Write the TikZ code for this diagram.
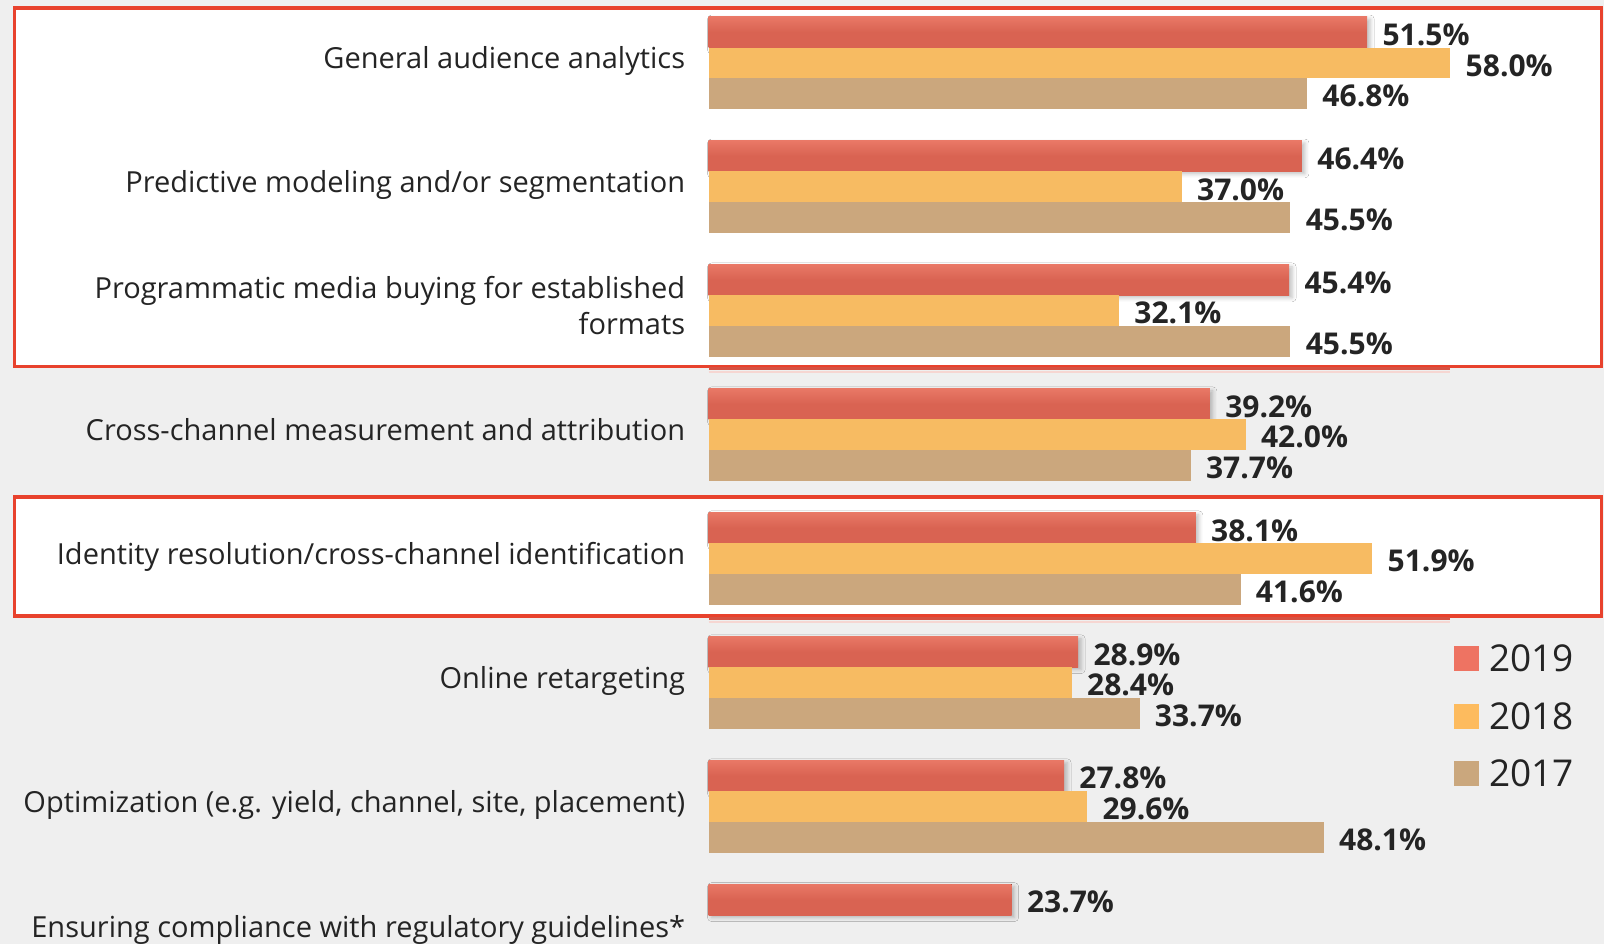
\documentclass[tikz,border=0pt]{standalone}
\usepackage{fontspec}
\setmainfont{Open Sans}
\usetikzlibrary{shadows.blur}
\definecolor{bg}{RGB}{239,239,239}
\definecolor{frame}{RGB}{232,66,45}
\definecolor{frameD}{RGB}{214,82,66}
\definecolor{framePink}{RGB}{246,214,210}
\definecolor{cR}{RGB}{217,99,82}
\definecolor{cRtop}{RGB}{233,120,102}
\definecolor{cY}{RGB}{247,187,98}
\definecolor{cT}{RGB}{203,167,125}
\definecolor{lR}{RGB}{238,115,98}
\definecolor{lY}{RGB}{253,187,94}
\definecolor{lT}{RGB}{202,167,125}
\definecolor{ink}{RGB}{36,36,36}
\begin{document}
\begin{tikzpicture}[x=0.5pt,y=-0.5pt,
  cat/.style={anchor=base east, font=\fontsize{14.5}{18}\selectfont, text=ink, inner sep=0pt},
  val/.style={anchor=west, font=\fontsize{15}{18}\selectfont\bfseries, text=ink, inner sep=0pt, text height=10.7pt, text depth=0pt},
  leg/.style={anchor=base west, font=\fontsize{18.5}{22}\selectfont, text=ink, inner sep=0pt},
  legsq/.style={draw=none, inner sep=0pt, minimum size=12.5pt},
  hibox/.style={draw=frame, line width=1.75pt, fill=white},
  barR/.style={top color=cRtop, bottom color=cR, middle color=cR,
    blur shadow={shadow xshift=1.5pt, shadow yshift=-1.2pt, shadow blur radius=2pt, shadow opacity=25}},
  barY/.style={fill=cY},
  barT/.style={fill=cT}
]
\fill[bg] (0,0) rectangle (1604,944);
\useasboundingbox (0,0) rectangle (1604,944);
% highlight boxes
\draw[hibox] (14.5,8) rectangle (1601.5,366.5);
\draw[hibox] (14.5,497) rectangle (1601.5,616);
\draw[frameD, line width=1.5pt] (708.5,368.5) -- (1450,368.5);
\draw[framePink, line width=1pt] (708.5,372) -- (1450,372);
\draw[frameD, line width=1.5pt] (708.5,618) -- (1450,618);
\draw[framePink, line width=1pt] (708.5,621.5) -- (1450,621.5);
% bars
\def\xo{708.5}
\def\sc{12.79}
\def\bh{30.8}
\def\gap{15}
\def\dy{2.5}
\foreach \i/\a/\b/\c in {0/51.5/58.0/46.8, 1/46.4/37.0/45.5, 2/45.4/32.1/45.5, 3/39.2/42.0/37.7, 4/38.1/51.9/41.6, 5/28.9/28.4/33.7, 6/27.8/29.6/48.1} {
  \pgfmathsetmacro\tp{16.7+123.94*\i}
  \fill[barR] (\xo,\tp) rectangle ({\xo+\sc*\a},{\tp+\bh});
  \fill[barY] (\xo,{\tp+\bh}) rectangle ({\xo+\sc*\b},{\tp+2*\bh});
  \fill[barT] (\xo,{\tp+2*\bh}) rectangle ({\xo+\sc*\c},{\tp+3*\bh});
  \node[val] (va\i) at ({\xo+\sc*\a+\gap},{\tp+0.5*\bh+\dy}) {\a\%};
  \node[val] (vb\i) at ({\xo+\sc*\b+\gap},{\tp+1.5*\bh+\dy}) {\b\%};
  \node[val] (vc\i) at ({\xo+\sc*\c+\gap},{\tp+2.5*\bh+\dy}) {\c\%};
}
\pgfmathsetmacro\tp{16.7+123.94*7}
\fill[barR] (\xo,\tp) rectangle ({\xo+\sc*23.7},{\tp+\bh});
\node[val] (va7) at ({\xo+\sc*23.7+\gap},{\tp+0.5*\bh+\dy}) {23.7\%};
% category labels
\node[cat] (c0) at (685.5,68.7) {General audience analytics};
\node[cat] (c1) at (685.5,192.6) {Predictive modeling and/or segmentation};
\node[cat, anchor=east, align=right] (c2) at (685.5,305.5) {Programmatic media buying for established\\formats};
\node[cat] (c3) at (685.5,440.5) {Cross-channel measurement and attribution};
\node[cat] (c4) at (685.5,564.5) {Identity resolution/cross-channel identification};
\node[cat] (c5) at (685.5,688.4) {Online retargeting};
\node[cat] (c6) at (685.5,812.3) {Optimization (e.g. yield, channel, site, placement)};
\node[cat] (c7) at (685.5,937) {Ensuring compliance with regulatory guidelines*};
% legend
\node[legsq, fill=lR] (s19) at (1466.5,658.5) {};
\node[legsq, fill=lY] (s18) at (1466.5,716) {};
\node[legsq, fill=lT] (s17) at (1466.5,773) {};
\node[leg] (t19) at (1489,671.5) {2019};
\node[leg] (t18) at (1489,729.7) {2018};
\node[leg] (t17) at (1489,786) {2017};
\end{tikzpicture}
\end{document}
